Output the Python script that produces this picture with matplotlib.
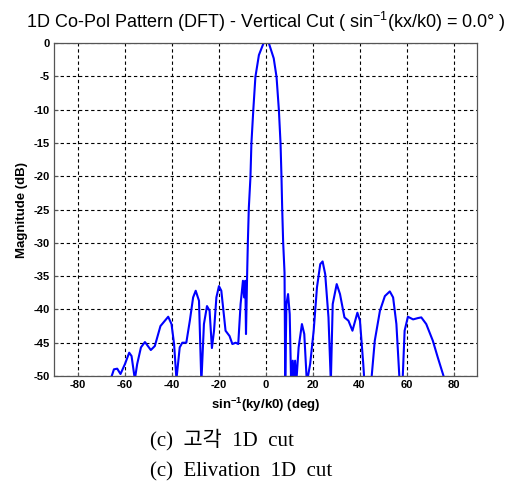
import matplotlib
matplotlib.use("Agg")
import matplotlib.pyplot as plt

angle_deg = [-65.9, -64.5, -63.1, -61.7, -59.8, -58.0, -57.0, -55.6, -54.6, -53.0,
             -51.3, -48.8, -47.1, -44.7, -41.4, -40.0, -38.9, -37.9, -36.5, -35.4,
             -33.7, -32.2, -30.8, -29.7, -28.3, -27.3, -26.2, -24.9, -23.8, -22.8,
             -21.9, -20.9, -19.8, -18.8, -17.0, -15.3, -14.1, -12.7, -11.6, -10.6,
             -9.6, -9.1, -8.6, -8.3, -7.8, -7.5, -7.1, -6.4, -6.0, -5.2,
             -4.3, -2.8, -0.8, 0.3, 1.4, 3.5, 4.7, 5.7, 6.4, 6.8,
             7.1, 7.5, 8.1, 8.4, 8.9, 9.6,
             10.3, 10.9, 11.6, 12.0, 12.6, 13.1, 14.1, 15.5, 16.5, 17.6,
             19.0, 20.5, 21.9, 23.3, 24.3, 25.4, 26.8, 27.8, 28.6, 30.3,
             31.7, 33.6, 35.3, 37.0, 39.1, 40.2, 41.6, 42.3, 44.7, 46.5,
             48.7, 50.8, 52.9, 54.3, 55.7, 57.1, 58.3, 59.2, 60.6, 62.8,
             64.9, 66.3, 68.4, 71.2, 73.3, 76.2]
magnitude_db = [-50.5, -49.0, -48.9, -49.7, -48.2, -46.5, -47.0, -50.5, -48.2, -45.7,
                -44.9, -46.1, -45.5, -42.5, -41.1, -42.2, -45.2, -50.5, -45.7, -45.0,
                -45.0, -41.7, -38.2, -37.2, -38.7, -51.0, -42.2, -39.5, -40.2, -45.8,
                -43.2, -38.2, -36.5, -37.2, -43.2, -44.0, -45.2, -45.0, -45.2, -39.2,
                -35.7, -38.2, -35.7, -43.7, -34.5, -29.8, -24.8, -20.1, -15.1, -10.1,
                -5.1, -1.8, 0.0, 0.2, 0.0, -2.3, -5.1, -10.1, -15.1, -20.1,
                -24.8, -29.8, -34.5, -51.0, -39.2, -37.7,
                -40.7, -51.0, -47.7, -51.0, -47.7, -51.0, -45.7, -42.2, -43.7, -51.0,
                -48.2, -43.2, -36.7, -33.2, -32.8, -34.7, -41.2, -51.0, -39.2, -36.2,
                -37.7, -41.2, -41.7, -43.2, -40.5, -41.7, -48.2, -52.0, -52.0, -44.7,
                -40.2, -38.0, -37.3, -38.2, -42.2, -51.0, -51.0, -43.2, -41.1, -41.5,
                -41.3, -41.2, -42.2, -44.7, -47.2, -50.5]

x_ticks = [-80, -60, -40, -20, 0, 20, 40, 60, 80]
y_ticks = [0, -5, -10, -15, -20, -25, -30, -35, -40, -45, -50]

plt.rcParams['mathtext.fontset'] = 'custom'
plt.rcParams['mathtext.rm'] = 'Liberation Sans'
plt.rcParams['mathtext.bf'] = 'Liberation Sans:bold'
plt.rcParams['font.family'] = ['Liberation Sans', 'DejaVu Sans']

fig = plt.figure(figsize=(5.09, 4.88), dpi=100)
ax = fig.add_axes([54/509, 1-376/488, (477-54)/509, (376-43)/488])
ax.plot(angle_deg, magnitude_db, color='#0000ff', lw=1.5, clip_on=True)
ax.set_xlim(-90, 90)
ax.set_ylim(-50, 0)
ax.set_xticks(x_ticks)
ax.set_yticks(y_ticks)
ax.set_xticklabels([str(t) for t in x_ticks], fontweight='bold', fontsize=8)
ax.set_yticklabels([str(t) for t in y_ticks], fontweight='bold', fontsize=8)
ax.tick_params(direction='in', length=3, width=0.8, color='#555555', pad=3)
ax.grid(True, color='black', linestyle=(0, (3, 2.5)), linewidth=0.8)
for s in ax.spines.values():
    s.set_color('#555555')
    s.set_linewidth(0.9)
ax.set_xlabel(r'sin$^{\mathbf{-1}}$(ky/k0) (deg)', fontweight='bold', fontsize=9.5, labelpad=4)
ax.set_ylabel('Magnitude (dB)', fontweight='bold', fontsize=9.5, labelpad=4)
ax.set_title(r'1D Co-Pol Pattern (DFT) - Vertical Cut ( sin$^{\mathrm{-1}}$(kx/k0) = 0.0° )',
             fontsize=13, pad=11)

fig.text(150/509, 1-440/488, '(c)  고각  1D  cut', fontsize=15, va='center', ha='left',
         family=['Liberation Serif', 'Noto Sans CJK KR'])
fig.text(150/509, 1-472/488, '(c)  Elivation  1D  cut', fontsize=15, va='center', ha='left',
         family=['Liberation Serif', 'Noto Sans CJK KR'])

fig.savefig('out.png', dpi=100)
